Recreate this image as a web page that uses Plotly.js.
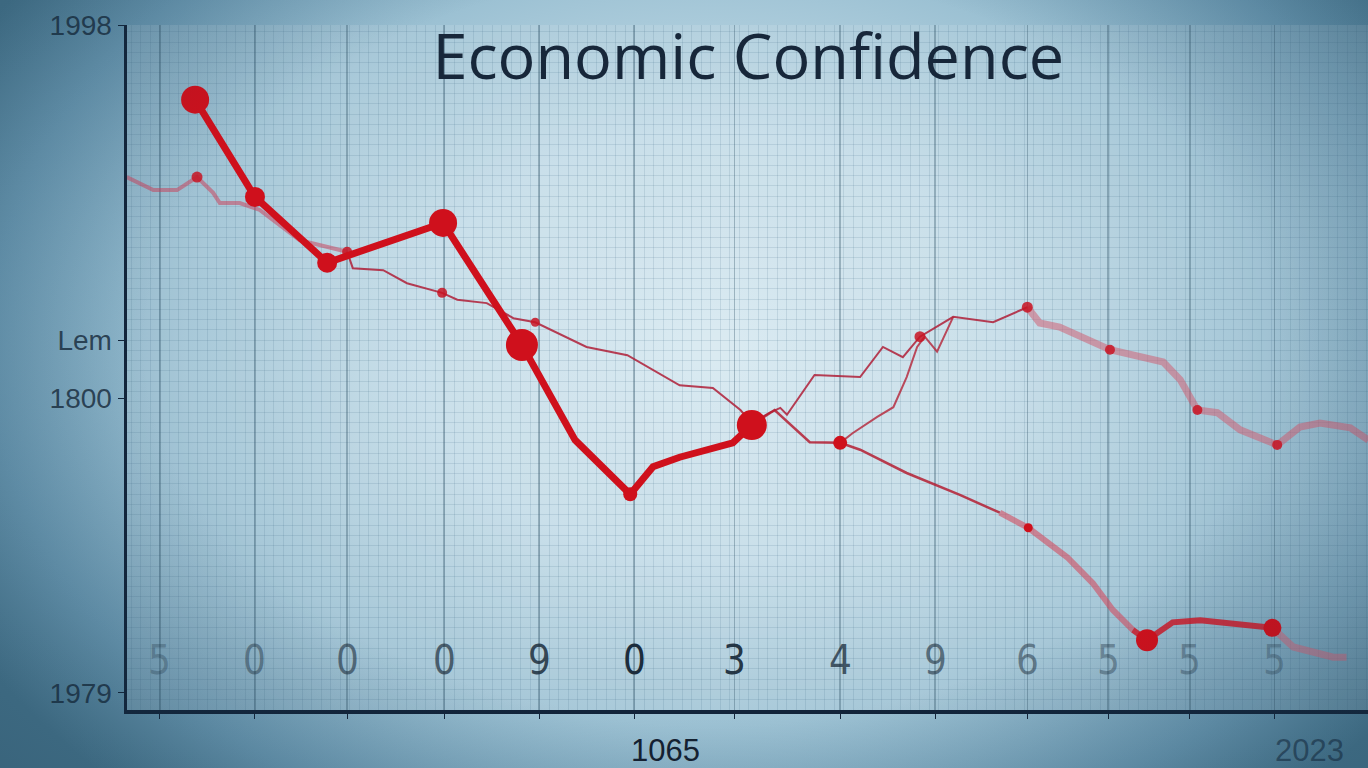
<!DOCTYPE html>
<html><head><meta charset="utf-8">
<script src="https://cdn.plot.ly/plotly-3.0.1.min.js"></script>
<style>
html,body{margin:0;padding:0;width:1368px;height:768px;overflow:hidden;}
#wrap{position:relative;width:1368px;height:768px;background:radial-gradient(ellipse 62% 80% at 52% 45%, #d6e8f0 0%, #c2dbe7 35%, #9cc1d3 62%, #6796b0 85%, #46768f 100%);}
#chart{position:absolute;left:0;top:0;width:1368px;height:768px;}
#vig{position:absolute;left:0;top:0;width:1368px;height:768px;pointer-events:none;background:radial-gradient(ellipse 75% 88% at 52% 45%, rgba(30,60,80,0) 55%, rgba(25,55,75,0.32) 100%);}
</style></head>
<body><div id="wrap"><div id="chart"></div><div id="vig"></div></div>
<script>
// ---- data ----
const chartTitle = "Economic Confidence";
// vertical grid / period positions
const periodTicks = [0, 1, 1.97, 2.99, 3.99, 4.99, 6.05, 7.16, 8.16, 9.13, 9.98, 10.84, 11.73];
const periodLabels = ["5", "0", "0", "0", "9", "0", "3", "4", "9", "6", "5", "5", "5"];
const yTickVals = [100, 54, 45.5, 2.5];
const yTickText = ["1998", "Lem", "1800", "1979"];
const xAxisLabels = ["1065", "2023"];
const xAxisLabelPos = [5.32, 12.1];

// main (thick) series
const mainX = [0.37, 1.0, 1.76, 2.98, 3.81, 4.37, 4.95, 5.19, 5.47, 6.03, 6.23];
const mainY = [89.1, 74.9, 65.3, 71.1, 53.3, 39.4, 31.5, 35.5, 36.9, 39.0, 41.6];

// long thin series
const thinX = [-0.35, -0.07, 0.18, 0.39, 0.56, 0.63, 0.84, 1.05, 1.47, 1.97, 2.03, 2.35, 2.60, 2.97, 3.13, 3.44, 3.72, 3.95, 4.49, 4.92, 5.19, 5.47, 5.82, 6.11, 6.23, 6.42, 6.53, 6.60, 6.89, 7.37, 7.61, 7.82, 8.00, 8.35, 8.77, 9.13, 9.26, 9.47, 10.0, 10.56, 10.74, 10.92, 11.13, 11.37, 11.76, 12.0, 12.21, 12.53, 12.72];
const thinY = [77.8, 75.9, 75.9, 77.8, 75.5, 74.0, 74.0, 73.0, 68.6, 66.9, 64.5, 64.2, 62.3, 60.9, 59.9, 59.4, 57.2, 56.6, 53.0, 51.8, 49.6, 47.4, 47.0, 43.8, 41.9, 43.4, 44.1, 43.1, 48.9, 48.6, 53.0, 51.5, 54.5, 57.4, 56.6, 58.8, 56.5, 55.9, 52.6, 50.8, 48.2, 43.8, 43.4, 40.9, 38.7, 41.3, 41.9, 41.2, 39.4];

// falling series (right part)
const fallX = [6.23, 6.47, 6.84, 7.16, 7.37, 7.86, 8.42, 8.84, 9.14, 9.55, 9.82, 10.03, 10.24, 10.39, 10.66, 10.95, 11.71, 11.93, 12.35, 12.49];
const fallY = [41.6, 43.8, 39.1, 39.0, 38.0, 34.6, 31.4, 28.8, 26.6, 22.3, 18.5, 14.6, 11.7, 10.2, 12.8, 13.1, 12.0, 9.2, 7.7, 7.7];

// rising connector series
const riseX = [7.16, 7.29, 7.55, 7.72, 7.86, 7.97, 8.05, 8.18, 8.35];
const riseY = [39.0, 40.4, 42.8, 44.2, 48.6, 53.0, 54.5, 52.3, 57.4];

// ---- styles ----
const RED = "#cf101c";
const mainMarkerSizes = [28, 20, 20, 28, 32, 0, 14, 0, 0, 0, 30];
const thinMarkerIdx = [3, 9, 13, 17, 32, 35, 38, 41, 44];
const thinMarkerSizes = [11, 10, 10, 9, 11, 11, 10, 10, 10];
const fallMarkerIdx = [3, 8, 13, 16];
const fallMarkerSizes = [14, 9, 22, 18];
const digitAlpha = [0.3, 0.45, 0.6, 0.7, 0.85, 1, 0.95, 0.75, 0.6, 0.5, 0.4, 0.35, 0.3];

function seg(xs, ys, a, b, color, width) {
  return {x: xs.slice(a, b), y: ys.slice(a, b), type: "scatter", mode: "lines",
    line: {color: color, width: width, shape: "linear"}, hoverinfo: "skip", showlegend: false};
}
function marks(xs, ys, idx, sizes, color) {
  return {x: idx.map(i => xs[i]), y: idx.map(i => ys[i]), type: "scatter", mode: "markers",
    marker: {color: color, size: sizes, opacity: 1, line: {width: 0}}, hoverinfo: "skip", showlegend: false};
}

const traces = [
  seg(thinX, thinY, 0, 10, "rgba(200,70,95,0.55)", 4),
  seg(thinX, thinY, 9, 36, "rgba(175,30,55,0.85)", 2),
  seg(thinX, thinY, 35, thinX.length, "rgba(210,85,105,0.5)", 7),
  seg(riseX, riseY, 0, riseX.length, "rgba(180,35,55,0.8)", 2),
  seg(fallX, fallY, 0, 8, "rgba(180,30,50,0.85)", 2.5),
  seg(fallX, fallY, 7, 13, "rgba(210,75,95,0.6)", 6),
  seg(fallX, fallY, 12, 17, "rgba(205,25,40,0.85)", 6),
  seg(fallX, fallY, 16, fallX.length, "rgba(215,95,115,0.5)", 7),
  marks(thinX, thinY, thinMarkerIdx, thinMarkerSizes, "rgba(200,20,35,0.85)"),
  marks(fallX, fallY, fallMarkerIdx, fallMarkerSizes, RED),
  {x: mainX, y: mainY, type: "scatter", mode: "lines+markers",
   line: {color: RED, width: 7}, marker: {color: RED, size: mainMarkerSizes, opacity: 1, line: {width: 0}},
   hoverinfo: "skip", showlegend: false}
];

const annotations = [];
periodTicks.forEach((t, i) => {
  annotations.push({x: t, y: (710 - 660) / 685, xref: "x", yref: "paper", text: periodLabels[i], showarrow: false,
    xanchor: "center", yanchor: "middle",
    font: {family: "Liberation Sans Narrow, DejaVu Sans Condensed, Liberation Sans, sans-serif", size: 40,
      color: "rgba(28,45,60," + digitAlpha[i] + ")"}});
});
xAxisLabels.forEach((t, i) => {
  annotations.push({x: xAxisLabelPos[i], y: -40 / 685, xref: "x", yref: "paper", text: t, showarrow: false,
    xanchor: "center", yanchor: "middle",
    font: {family: "Liberation Sans, Arial, sans-serif", size: 31,
      color: i === 0 ? "#142030" : "rgba(20,40,60,0.6)"}});
});

const layout = {
  width: 1368, height: 768,
  margin: {l: 127, r: 0, t: 25, b: 58, pad: 0},
  paper_bgcolor: "rgba(0,0,0,0)",
  plot_bgcolor: "rgba(255,255,255,0.12)",
  title: {text: chartTitle, x: 0.547, xanchor: "center", y: 0.926, yanchor: "middle", yref: "container",
    font: {family: "Open Sans, Noto Sans, sans-serif", size: 63, weight: 500, color: "#17273a"}},
  xaxis: {range: [-0.347, 12.716], tickmode: "array", tickvals: periodTicks, showticklabels: false,
    showgrid: true, gridcolor: "rgba(45,80,100,0.35)", gridwidth: 1.5, zeroline: false,
    ticks: "outside", ticklen: 5, tickcolor: "#12243a",
    showline: true, linecolor: "#12243a", linewidth: 3.5,
    minor: {tick0: 0, dtick: 0.1, showgrid: true, gridcolor: "rgba(60,100,125,0.14)", gridwidth: 1, ticks: ""}},
  yaxis: {range: [0, 100], tickmode: "array", tickvals: yTickVals, ticktext: yTickText,
    showgrid: false, zeroline: false, ticks: "outside", ticklen: 6, tickcolor: "#12243a",
    tickfont: {family: "Liberation Sans, Arial, sans-serif", size: 28, color: "rgba(20,38,55,0.8)"},
    showline: true, linecolor: "#12243a", linewidth: 3.5,
    minor: {tick0: 0, dtick: 1.5, showgrid: true, gridcolor: "rgba(60,100,125,0.14)", gridwidth: 1, ticks: ""}},
  annotations: annotations,
  showlegend: false
};

Plotly.newPlot("chart", traces, layout, {displayModeBar: false, staticPlot: true});
</script>
</body></html>
